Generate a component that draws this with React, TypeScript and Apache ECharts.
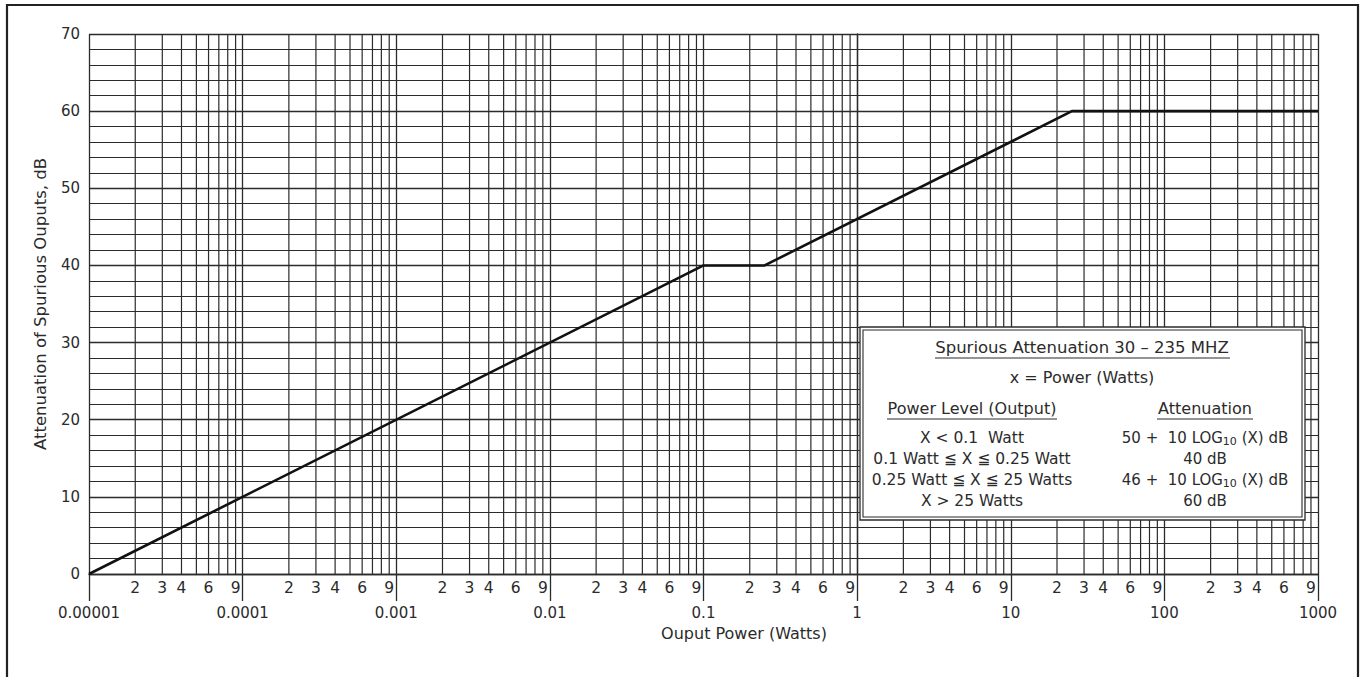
import React, { useEffect, useRef } from "react";
import * as echarts from "echarts";

const powerW = [0.00001, 0.1, 0.25, 25, 1000];
const attenDb = [0, 40, 40, 60, 60];

const decadeLabels = ["0.00001", "0.0001", "0.001", "0.01", "0.1", "1", "10", "100", "1000"];
const decadeExps = [-5, -4, -3, -2, -1, 0, 1, 2, 3];
const minorMultipliers = [2, 3, 4, 5, 6, 7, 8, 9];
const labeledMultipliers = [2, 3, 4, 6, 9];

const yTicks = [0, 10, 20, 30, 40, 50, 60, 70];

const boxTitle = "Spurious Attenuation 30 \u2013 235 MHZ";
const boxSubtitle = "x = Power (Watts)";
const colHeadLeft = "Power Level (Output)";
const colHeadRight = "Attenuation";
const rowsLeft = [
  "X < 0.1  Watt",
  "0.1 Watt \u2266 X \u2266 0.25 Watt",
  "0.25 Watt \u2266 X \u2266 25 Watts",
  "X > 25 Watts",
];
const rowsRight = [
  "50 +  10 LOG{s|10} (X) dB",
  "40 dB",
  "46 +  10 LOG{s|10} (X) dB",
  "60 dB",
];

const FONT = "'DejaVu Sans', sans-serif";
const INK = "#2b2b2b";

export default function App() {
  const ref = useRef<HTMLDivElement>(null);

  useEffect(() => {
    if (!ref.current) return;
    const chart = echarts.init(ref.current, undefined, { renderer: "svg" });

    const minorData: number[][] = [];
    const labelData: number[][] = [];
    for (let d = -5; d < 3; d++) {
      for (const k of minorMultipliers) {
        minorData.push([Math.log10(k * Math.pow(10, d)), k]);
      }
      for (const k of labeledMultipliers) {
        labelData.push([Math.log10(k * Math.pow(10, d)), k]);
      }
    }

    const labelMap: Record<string, string> = {};
    decadeExps.forEach((e, i) => (labelMap[String(e)] = decadeLabels[i]));

    const lineData = powerW.map((p, i) => [Math.log10(p), attenDb[i]]);

    const boxX = 860, boxY = 327, boxW = 445, boxH = 193;
    const leftC = 972, rightC = 1205, midC = 1082;
    const rowY = [438, 459, 480, 501];

    const txt = (text: string, x: number, y: number, size = 15.5) => ({
      type: "text",
      x,
      y,
      z: 102,
      style: {
        text,
        fill: INK,
        font: `${size}px ${FONT}`,
        align: "center",
        verticalAlign: "middle",
        textAlign: "center",
        textVerticalAlign: "middle",
      },
    });
    const uline = (x1: number, x2: number, y: number) => ({
      type: "line",
      z: 102,
      shape: { x1, y1: y, x2, y2: y },
      style: { stroke: INK, lineWidth: 1.2 },
    });

    const option: any = {
      animation: false,
      backgroundColor: "#ffffff",
      grid: { left: 89, right: 42, top: 34, bottom: 103 },
      xAxis: {
        type: "value",
        min: -5,
        max: 3,
        interval: 1,
        axisLine: { show: true, lineStyle: { color: INK, width: 1.3 } },
        axisTick: { show: true, length: 27, lineStyle: { color: INK, width: 1.3 } },
        axisLabel: {
          margin: 31,
          color: INK,
          fontSize: 15,
          fontFamily: FONT,
          formatter: (v: number) => labelMap[String(Math.round(v))] ?? "",
        },
        splitLine: { show: true, lineStyle: { color: INK, width: 1.3 } },
      },
      yAxis: {
        type: "value",
        min: 0,
        max: 70,
        interval: 10,
        name: "Attenuation of Spurious Ouputs, dB",
        nameLocation: "middle",
        nameGap: 40,
        nameRotate: 90,
        nameTextStyle: { color: INK, fontSize: 16.5, fontFamily: FONT },
        axisLine: { show: true, lineStyle: { color: INK, width: 1.3 } },
        axisTick: { show: false },
        axisLabel: {
          margin: 9,
          color: INK,
          fontSize: 15,
          fontFamily: FONT,
          formatter: (v: number) => (yTicks.includes(v) ? String(v) : ""),
        },
        splitLine: { show: true, lineStyle: { color: INK, width: 1.3 } },
        minorTick: { show: false, splitNumber: 5 },
        minorSplitLine: { show: true, lineStyle: { color: INK, width: 1.2 } },
      },
      series: [
        {
          type: "custom",
          name: "minor-grid",
          clip: false,
          z: 1,
          data: minorData,
          silent: true,
          renderItem: (params: any, api: any) => {
            const x = api.value(0);
            const p0 = api.coord([x, 0]);
            const p1 = api.coord([x, 70]);
            return {
              type: "line",
              shape: { x1: p0[0], y1: p0[1], x2: p1[0], y2: p1[1] },
              style: { stroke: INK, lineWidth: 1.2 },
            };
          },
        },
        {
          type: "custom",
          name: "minor-labels",
          clip: false,
          z: 1,
          data: labelData,
          silent: true,
          renderItem: (params: any, api: any) => {
            const x = api.value(0);
            const k = api.value(1);
            const p0 = api.coord([x, 0]);
            return {
              type: "text",
              x: p0[0],
              y: p0[1] + 14,
              style: {
                text: String(k),
                fill: INK,
                font: `15.5px ${FONT}`,
                align: "center",
                verticalAlign: "middle",
                textAlign: "center",
                textVerticalAlign: "middle",
              },
            };
          },
        },
        {
          type: "line",
          name: "Attenuation",
          data: lineData,
          symbol: "none",
          z: 5,
          lineStyle: { color: "#111", width: 2.6 },
        },
      ],
      graphic: [
        {
          type: "rect",
          z: 50,
          shape: { x: 7, y: 5, width: 1351, height: 700 },
          style: { fill: "none", stroke: "#222", lineWidth: 2.2 },
          silent: true,
        },
        txt("Ouput Power (Watts)", 744, 633, 16),
        {
          type: "rect",
          z: 100,
          shape: { x: boxX, y: boxY, width: boxW, height: boxH },
          style: { fill: "#ffffff", stroke: INK, lineWidth: 1.3 },
        },
        {
          type: "rect",
          z: 101,
          shape: { x: boxX + 3, y: boxY + 3, width: boxW - 6, height: boxH - 6 },
          style: { fill: "none", stroke: INK, lineWidth: 1.1 },
        },
        txt(boxTitle, midC, 347, 16.5),
        uline(935, 1230, 358),
        txt(boxSubtitle, midC, 377, 16),
        txt(colHeadLeft, leftC, 408, 16),
        uline(887, 1057, 419),
        txt(colHeadRight, rightC, 408, 16),
        uline(1157, 1253, 419),
        ...rowsLeft.map((t, i) => txt(t, leftC, rowY[i], 15.5)),
        ...rowsRight.map((t, i) => ({
          type: "text",
          x: rightC,
          y: rowY[i],
          z: 102,
          style: {
            text: t,
            fill: INK,
            font: `15px ${FONT}`,
            align: "center",
            verticalAlign: "middle",
            textAlign: "center",
            textVerticalAlign: "middle",
            rich: {
              s: { fontSize: 11, fontFamily: FONT, fill: INK, color: INK, verticalAlign: "bottom", padding: [7, 0, 0, 0] },
            },
          },
        })),
      ],
    };

    chart.setOption(option);
    return () => chart.dispose();
  }, []);

  return (
    <div
      ref={ref}
      style={{ position: "absolute", left: 0, top: 0, width: 1360, height: 677, background: "#fff" }}
    />
  );
}
